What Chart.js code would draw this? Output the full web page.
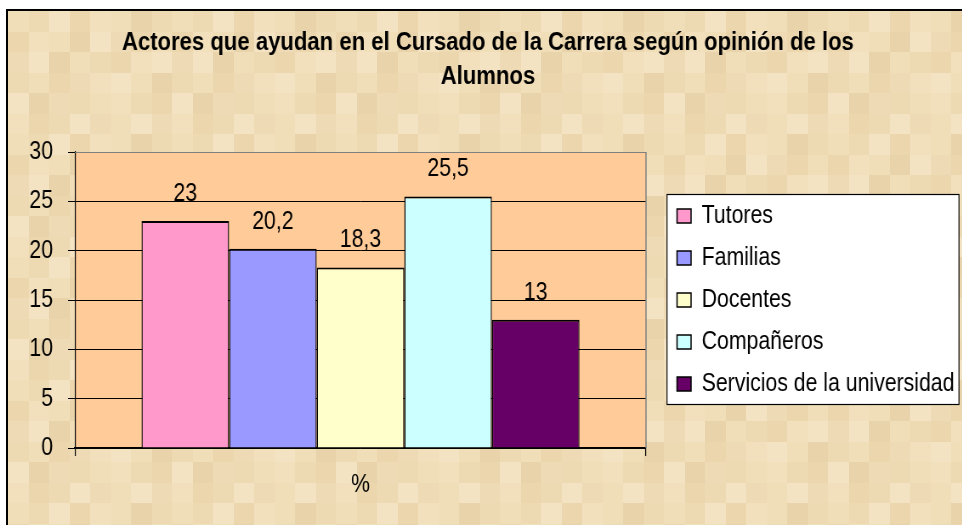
<!DOCTYPE html>
<html>
<head>
<meta charset="utf-8">
<script src="https://cdn.jsdelivr.net/npm/chart.js@4.4.1/dist/chart.umd.min.js"></script>
<style>
html,body{margin:0;padding:0;background:#fff;overflow:hidden;width:962px;height:525px;}
#frame{position:absolute;left:6px;top:9px;width:1100px;height:600px;border:2px solid #000;background-color:#EFDCB6;}
#wrap{position:absolute;left:0;top:0;width:1132px;height:525px;transform:scaleX(0.85);transform-origin:0 0;}
canvas{display:block;}
</style>
</head>
<body>
<div id="frame"></div>
<div id="wrap"><canvas id="c" width="1132" height="525" style="width:1132px;height:525px"></canvas></div>
<script>
// ---- data ----
const categories = ['%'];
const seriesNames = ['Tutores', 'Familias', 'Docentes', 'Compañeros', 'Servicios de la universidad'];
const seriesValues = [23, 20.2, 18.3, 25.5, 13];
const seriesColors = ['#FF99CC', '#9999FF', '#FFFFCC', '#CCFFFF', '#660066'];
const yTicks = [0, 5, 10, 15, 20, 25, 30];
const titleLines = ['Actores que ayudan en el Cursado de la Carrera según opinión de los', 'Alumnos'];

// ---- decorative paper texture (fixed tone grid, not data) ----
(function () {
  const tones = ['#F0DEB8', '#EBD6AE', '#F3E3C3', '#EDD9B2', '#E8D3AA', '#F2E0BD', '#EEDBB5'];
  const grid = [
    [0,3,2,1,5,0,4,3],
    [1,5,0,4,2,6,1,0],
    [6,2,4,0,3,1,5,2],
    [3,0,1,6,5,2,0,4],
    [2,4,6,3,0,5,3,1],
    [5,1,3,2,6,0,2,6]
  ];
  const s = 20.5;
  const t = document.createElement('canvas');
  t.width = Math.round(s * 8); t.height = Math.round(s * 6);
  const g = t.getContext('2d');
  grid.forEach((row, r) => row.forEach((k, c) => {
    g.fillStyle = tones[k];
    g.fillRect(Math.round(c * s), Math.round(r * s), Math.ceil(s), Math.ceil(s));
  }));
  const fr = document.getElementById('frame');
  fr.style.backgroundImage = 'url(' + t.toDataURL() + ')';
  fr.style.backgroundRepeat = 'repeat';
})();

const FONT = '"Liberation Sans", Arial, sans-serif';
Chart.defaults.font.family = FONT;
Chart.defaults.color = '#000';

const fmt = v => String(v).replace('.', ',');

const datasets = seriesNames.map((name, i) => ({
  label: name,
  data: [seriesValues[i]],
  backgroundColor: seriesColors[i],
  borderColor: '#000',
  borderWidth: {top: 2, left: 1.4, right: 1.4, bottom: 0},
  borderSkipped: 'bottom',
  categoryPercentage: 0.767,
  barPercentage: 1
}));

const LEGEND_BAND = 358;

const decor = {
  id: 'decor',
  beforeLayout(chart) {
    const lg = chart.legend;
    if (lg && !lg.__fixed) {
      const f = lg.fit;
      lg.fit = function () { f.call(this); this.width = LEGEND_BAND; };
      lg.__fixed = true;
    }
  },
  afterLayout(chart) {
    const lg = chart.legend, ca = chart.chartArea;
    if (lg) {
      lg.left = ca.right + 19.5;
      lg.right = chart.width;
      lg.width = lg.right - lg.left;
      lg.top = ca.top;
      lg.bottom = ca.bottom;
      lg.height = ca.bottom - ca.top;
    }
  },
  beforeDraw(chart) {
    const ctx = chart.ctx, ca = chart.chartArea;
    ctx.save();
    ctx.fillStyle = '#FFCC99';
    ctx.fillRect(ca.left, ca.top, ca.right - ca.left, ca.bottom - ca.top);
    // legend frame
    const lx = ca.right + 24.7, ly = 194, lw = 343.5, lh = 210;
    ctx.fillStyle = '#FFFFFF';
    ctx.fillRect(lx, ly, lw, lh);
    ctx.strokeStyle = '#000';
    ctx.lineWidth = 1.2;
    ctx.strokeRect(lx, ly + 0.5, lw, lh);
    ctx.restore();
  },
  afterDatasetsDraw(chart) {
    const ctx = chart.ctx;
    ctx.save();
    ctx.font = '25px ' + FONT;
    ctx.fillStyle = '#000';
    ctx.textAlign = 'center';
    ctx.textBaseline = 'alphabetic';
    chart.data.datasets.forEach((ds, i) => {
      const el = chart.getDatasetMeta(i).data[0];
      ctx.fillText(fmt(ds.data[0]), el.x, el.y - 20);
    });
    ctx.restore();
  },
  afterDraw(chart) {
    const ctx = chart.ctx, ca = chart.chartArea;
    ctx.save();
    ctx.strokeStyle = '#808080';
    ctx.lineWidth = 1;
    ctx.beginPath();
    ctx.moveTo(ca.left, ca.top + 0.5);
    ctx.lineTo(ca.right, ca.top + 0.5);
    ctx.stroke();
    ctx.lineWidth = 1.5;
    ctx.beginPath();
    ctx.moveTo(ca.right, ca.top);
    ctx.lineTo(ca.right, ca.bottom);
    ctx.stroke();
    ctx.restore();
  }
};

new Chart(document.getElementById('c'), {
  type: 'bar',
  data: { labels: categories, datasets },
  options: {
    responsive: false,
    animation: false,
    devicePixelRatio: 1,
    layout: { autoPadding: false, padding: { left: 30, right: 14, top: 10, bottom: 0 } },
    scales: {
      x: {
        offset: true,
        grid: { offset: true, drawOnChartArea: false, drawTicks: true, tickLength: 8, color: '#000', lineWidth: 1.2 },
        border: { display: true, color: '#000', width: 1.5 },
        ticks: { font: { size: 25 }, color: '#000', padding: 14.5 },
        afterFit: s => { s.height = 77; }
      },
      y: {
        min: 0, max: 30,
        afterBuildTicks: s => { s.ticks = yTicks.map(v => ({ value: v })); },
        grid: { color: '#000', lineWidth: 1, tickLength: 8.2, drawTicks: true },
        border: { display: true, color: '#000', width: 1.2 },
        ticks: { font: { size: 25 }, color: '#000', padding: 17.6, stepSize: 5 },
        afterFit: s => { s.width = 58.2; }
      }
    },
    plugins: {
      title: {
        display: true,
        text: titleLines,
        color: '#000',
        font: { size: 26, weight: 'bold', lineHeight: '34.5px' },
        padding: { top: 15.25, bottom: 57.75 }
      },
      legend: {
        display: true,
        position: 'right',
        align: 'center',
        fullSize: false,
        labels: {
          color: '#000',
          font: { size: 25 },
          boxWidth: 16.5,
          boxHeight: 14,
          padding: 17,
          generateLabels(chart) {
            return Chart.defaults.plugins.legend.labels.generateLabels(chart).map(l => Object.assign(l, { lineWidth: 1.5, strokeStyle: '#000' }));
          }
        }
      },
      tooltip: { enabled: false }
    }
  },
  plugins: [decor]
});
</script>
</body>
</html>
